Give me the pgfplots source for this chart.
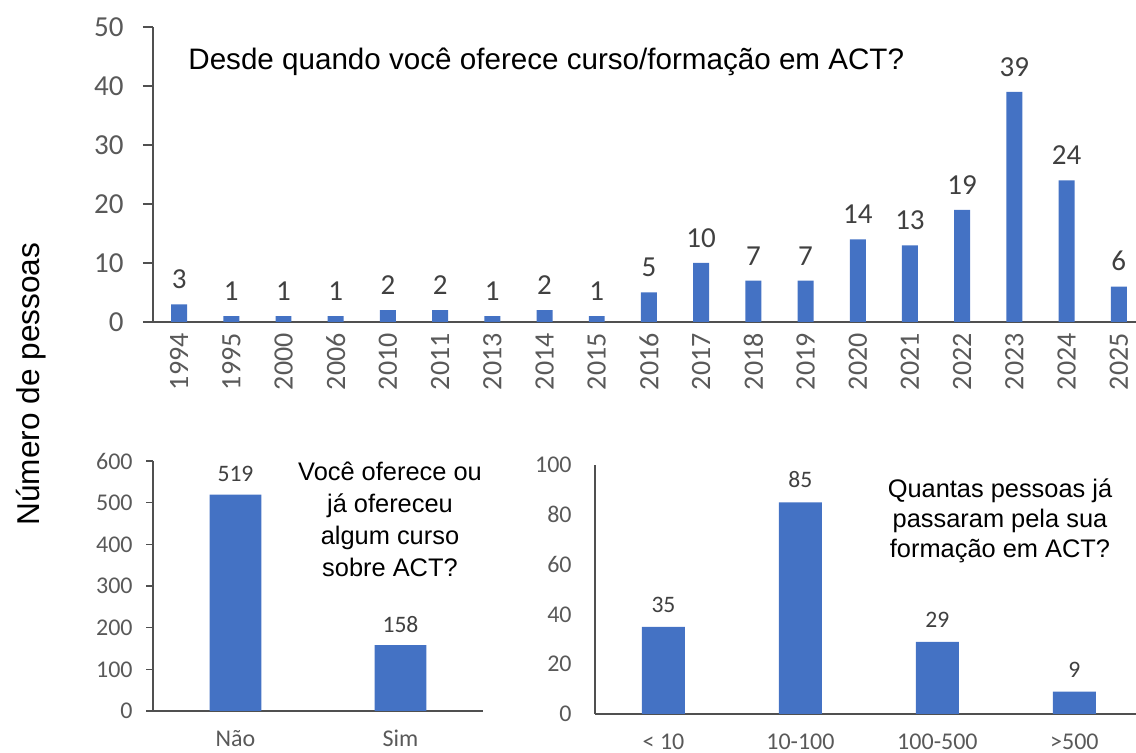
\documentclass[border=0pt]{standalone}
\usepackage{pgfplots}
\pgfplotsset{compat=1.18}
\usepackage{fontspec}
\setmainfont{Carlito}
\newfontfamily\arial{Liberation Sans}
\definecolor{barblue}{HTML}{4472C4}
\definecolor{tickgray}{HTML}{595959}
\definecolor{valgray}{HTML}{404040}
\definecolor{axgray}{HTML}{505050}
\pgfplotsset{
  mybar/.style={
    ybar, scale only axis, clip=false,
    axis lines*=left,
    axis line style={-, draw=axgray, line width=0.8pt},
    /pgf/number format/assume math mode=true,
    tick label style={text=tickgray},
    x tick style={draw=none},
    y tick style={draw=axgray, line width=0.8pt},
    tick align=outside, major tick length=5pt,
    bar shift=0pt,
    nodes near coords,
    every node near coord/.append style={text=valgray, inner sep=0pt, anchor=south},
    ymin=0,
  }
}
\begin{document}
\begin{tikzpicture}
\useasboundingbox (0,0) rectangle (568pt,376.5pt);
% top chart
\begin{axis}[mybar,
  at={(76.5pt,215.5pt)}, anchor=south west,
  width=491.5pt, height=147.5pt,
  xmin=-0.5, xmax=18.33, ymax=50,
  ytick={0,10,20,30,40,50},
  bar width=0.306,
  xtick={0,...,18},
  xticklabels={1994,1995,2000,2006,2010,2011,2013,2014,2015,2016,2017,2018,2019,2020,2021,2022,2023,2024,2025},
  xticklabel style={inner sep=0pt, yshift=-0.5pt, rotate=90, anchor=east, font=\fontsize{14}{16}\selectfont},
  yticklabel style={anchor=east, inner sep=0pt, xshift=-9.5pt, font=\fontsize{14.5}{16}\selectfont},
  every node near coord/.append style={yshift=7.5pt, font=\fontsize{14.5}{16}\selectfont},
]
\addplot[fill=barblue, draw=none] coordinates {
(0,3)(1,1)(2,1)(3,1)(4,2)(5,2)(6,1)(7,2)(8,1)(9,5)(10,10)(11,7)(12,7)(13,14)(14,13)(15,19)(16,39)(17,24)(18,6)};
\end{axis}
% bottom left
\begin{axis}[mybar,
  at={(76.5pt,21pt)}, anchor=south west,
  width=165pt, height=125pt,
  xmin=-0.5, xmax=1.5, ymax=600,
  ytick={0,100,200,300,400,500,600},
  bar width=0.315,
  xtick={0,1}, xticklabels={Não,Sim},
  xticklabel style={anchor=north, inner sep=0pt, yshift=-6pt, font=\fontsize{12}{13}\selectfont},
  yticklabel style={anchor=east, inner sep=0pt, xshift=-6.5pt, font=\fontsize{12}{13}\selectfont},
  major tick length=3.5pt,
  every node near coord/.append style={yshift=6.2pt, font=\fontsize{11.8}{13}\selectfont},
]
\addplot[fill=barblue, draw=none] coordinates {(0,519)(1,158)};
\end{axis}
% bottom right
\begin{axis}[mybar,
  at={(297.5pt,19.5pt)}, anchor=south west,
  width=270.5pt, height=124.5pt,
  xmin=-0.5, xmax=3.45, ymax=100,
  ytick={0,20,40,60,80,100},
  y tick style={draw=none},
  bar width=0.314,
  xtick={0,1,2,3}, xticklabels={< 10,10-100,100-500,>500},
  xticklabel style={anchor=north, inner sep=0pt, yshift=-4.8pt, font=\fontsize{12}{13}\selectfont},
  yticklabel style={anchor=east, inner sep=0pt, xshift=-6.5pt, font=\fontsize{12}{13}\selectfont},
  every node near coord/.append style={yshift=7pt, font=\fontsize{11.8}{13}\selectfont},
]
\addplot[fill=barblue, draw=none] coordinates {(0,35)(1,85)(2,29)(3,9)};
\end{axis}
% titles
\node[anchor=base west, inner sep=0pt, font=\arial\fontsize{14.8}{17}\selectfont] at (94pt,341.5pt) {Desde quando você oferece curso/formação em ACT?};
\node[rotate=90, inner sep=0pt, font=\arial\fontsize{15.8}{18}\selectfont] at (15.75pt,184.5pt) {Número de pessoas};
\begin{scope}[every node/.style={anchor=base, inner sep=0pt, font=\arial\fontsize{12.7}{15}\selectfont}]
\node at (195pt,136pt) {Você oferece ou};
\node at (195pt,120pt) {já ofereceu};
\node at (195pt,104.2pt) {algum curso};
\node at (195pt,88.3pt) {sobre ACT?};
\node at (500pt,127.5pt) {Quantas pessoas já};
\node at (500pt,112.5pt) {passaram pela sua};
\node at (500pt,97.5pt) {formação em ACT?};
\end{scope}
\end{tikzpicture}
\end{document}
